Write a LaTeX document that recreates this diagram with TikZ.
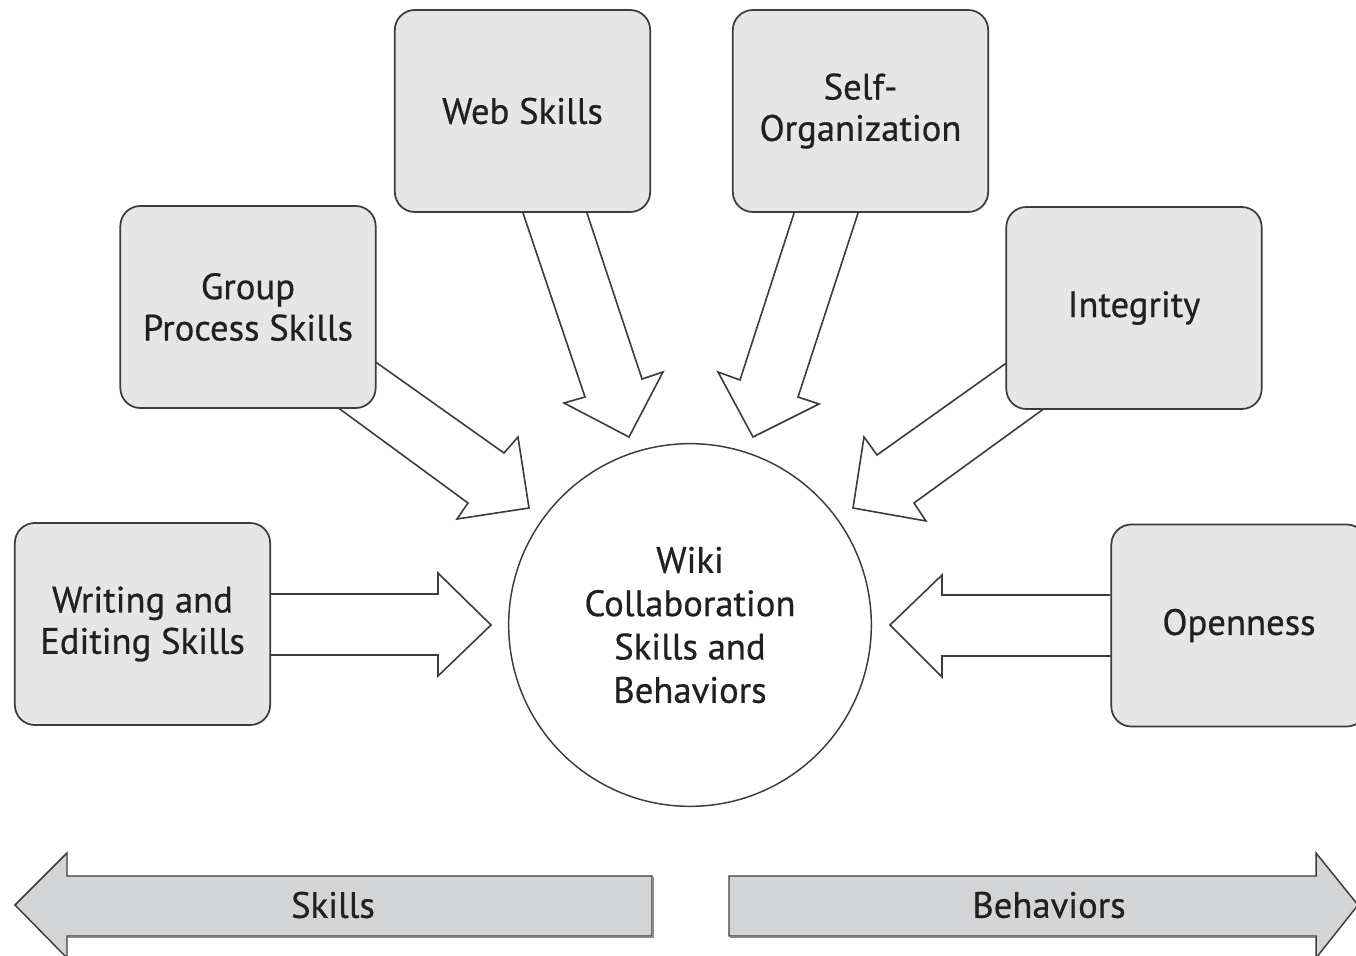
\documentclass[tikz,border=0pt]{standalone}
\usepackage{fontspec}
\setmainfont{PT Sans}
\newfontfamily\lblfont{PT Sans}[FakeBold=0.6]
\usetikzlibrary{calc}
\pgfdeclarelayer{back}
\pgfsetlayers{back,main}
\definecolor{boxfill}{HTML}{E6E6E6}
\definecolor{barfill}{HTML}{D3D4D6}
\definecolor{edge}{HTML}{3C3C3C}
\definecolor{txt}{HTML}{231F20}
\begin{document}
\begin{tikzpicture}[x=0.75pt,y=-0.75pt,
  lbl/.style={font=\lblfont\fontsize{27.5}{31}\selectfont, text=txt, align=center},
  sbox/.style={lbl, draw=edge, line width=1.3pt, fill=boxfill, rounded corners=15pt,
    inner sep=0pt, minimum width=191.5pt, minimum height=151.5pt},
  hub/.style={lbl, draw=edge, line width=1.1pt, fill=white, circle, minimum size=272pt, inner sep=0pt,
    font=\lblfont\fontsize{27.5}{32.5}\selectfont},
  blockarrow/.style={draw=edge, line width=1.2pt, fill=white, line join=miter},
  bar/.style={draw=edge, line width=1.1pt, fill=barfill, line join=miter},
  barshadow/.style={draw=black!45, line width=1.1pt}
]
\useasboundingbox (0,0) rectangle (1356,956);
\begin{scope}
\clip (0,0) rectangle (1356,956);

% nodes
\node[sbox] (web) at (522.5,111) {Web Skills};
\node[sbox] (self) at (860.5,111) {Self-\\Organization};
\node[sbox] (group) at (248,307) {Group\\Process Skills};
\node[sbox] (integ) at (1134,308) {Integrity};
\node[sbox] (write) at (142.5,624) {Writing and\\Editing Skills};
\node[sbox] (open) at (1239,625.5) {Openness};
\node[hub] (wiki) at (690,625) {Wiki\\Collaboration\\Skills and\\Behaviors};

% block arrows into the hub (behind the boxes)
\begin{pgfonlayer}{back}
\draw[blockarrow] (write.east |- 0,594) -- (438,594) -- (438,573) -- (491,625) -- (438,676) -- (438,655) -- (write.east |- 0,655);
\draw[blockarrow] (open.west |- 0,595) -- (942,595) -- (942,575) -- (890,625) -- (942,677) -- (942,656) -- (open.west |- 0,656);
\draw[blockarrow] (370,358) -- (504,453) -- (518,437) -- (529,508) -- (457,519) -- (468,503) -- (333,404);
\draw[blockarrow] (521,207) -- (585,397) -- (564,403) -- (629,437) -- (663,372) -- (642,379) -- (585,207);
\draw[blockarrow] (796,207) -- (740,380) -- (718,372) -- (753,437) -- (819,404) -- (798,397) -- (860,207);
\draw[blockarrow] (1012,359) -- (877,455) -- (864,437) -- (853,508) -- (926,521) -- (914,503) -- (1049,405);
\end{pgfonlayer}

% bottom bars
\coordinate (skillsTip) at (15,905);
\coordinate (behTip) at (1358,905);
\draw[bar] (652,876) -- (67,876) -- (67,853) -- (skillsTip) -- (67,958) -- (67,936) -- (652,936) -- cycle;
\draw[barshadow] (68,937.5) -- (653,937.5) -- (653,877);
\node[lbl] (skills) at (333,905) {Skills};
\draw[bar] (729,876) -- (1316,876) -- (1316,853) -- (behTip) -- (1316,958) -- (1316,936) -- (729,936) -- cycle;
\draw[barshadow] (730,937.5) -- (1315,937.5);
\node[lbl] (beh) at (1049,905) {Behaviors};
\end{scope}
\end{tikzpicture}
\end{document}
